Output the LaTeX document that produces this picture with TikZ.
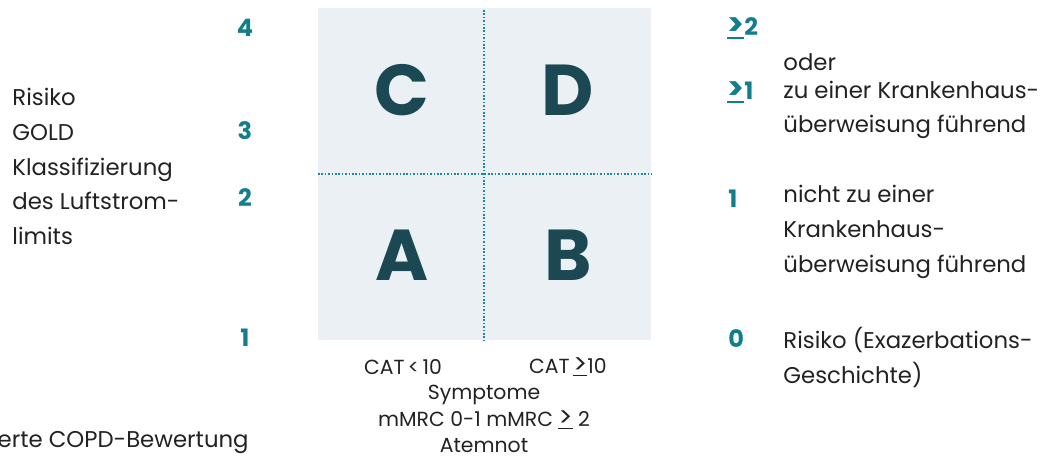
\documentclass[tikz,border=0pt]{standalone}
\usepackage{fontspec}
\setmainfont{Poppins}
\definecolor{boxfill}{HTML}{EBF0F4}
\definecolor{fielddark}{HTML}{1B4853}
\definecolor{numteal}{HTML}{127D8B}
\definecolor{lineteal}{HTML}{1D8A99}
\definecolor{textgray}{HTML}{222222}
\newcommand{\uge}{\setbox0\hbox{\scalebox{1.3}{>}}\rlap{\rule[-1.6pt]{\wd0}{0.6pt}}\box0\relax}
\begin{document}
\begin{tikzpicture}[x=0.5pt, y=-0.5pt,
		txt/.style={font=\fontsize{11.4}{17.3}\selectfont, text=textgray, inner sep=0pt, align=left},
		num/.style={font=\fontsize{12}{14}\selectfont\bfseries, text=numteal, inner sep=0pt},
		field/.style={font=\fontsize{36}{40}\selectfont\bfseries, text=fielddark, inner sep=0pt},
		axis/.style={font=\fontsize{10.2}{13.2}\selectfont, text=textgray, inner sep=0pt, align=center},
		divider/.style={draw=lineteal, line width=0.8pt, dash pattern=on 0.8pt off 0.9pt}]
			\useasboundingbox (0,0) rectangle (1044,459);

			% quadrant field
			\fill[boxfill] (318,8) rectangle (651,340);
			\coordinate (vtop) at (484,10);
			\coordinate (vbot) at (484,343);
			\coordinate (hleft) at (318,174);
			\coordinate (hright) at (652,174);
			\draw[divider] (vtop) -- (vbot);
			\draw[divider] (hleft) -- (hright);

			\node[field] (C) at (402,90) {C};
			\node[field] (D) at (568,90) {D};
			\node[field] (A) at (402,255) {A};
			\node[field] (B) at (568,255) {B};

			% left scale
			\node[num] (n4) at (245,28) {4};
			\node[num] (n3) at (245,131) {3};
			\node[num] (n2) at (245,198) {2};
			\node[num] (n1) at (245,338) {1};
			\node[txt, anchor=west] (gold) at (12,166.5) {Risiko\\GOLD\\Klassifizierung\\des Luftstrom-\\limits};
			\node[txt, anchor=east] (title) at (249,443) {erte COPD-Bewertung};

			% bottom axis
			\node[axis] (cat1) at (403,367) {CAT\,<\,10};
			\node[axis] (cat2) at (568,367) {CAT\,\uge10};
			\node[axis] (sym) at (484,419) {Symptome\\mMRC 0-1 mMRC \uge\ 2\\Atemnot};

			% right scale
			\node[num, anchor=west] (r2) at (727,28) {\uge2};
			\node[num, anchor=west] (r1) at (727,92) {\uge1};
			\node[num, anchor=west] (r1b) at (728,199) {1};
			\node[num, anchor=west] (r0) at (728,339) {0};
			\node[txt, anchor=west] (oder) at (783,62) {oder};
			\node[txt, anchor=west] (hosp) at (783,110) {zu einer Krankenhaus-\\überweisung führend};
			\node[txt, anchor=west] (nohosp) at (783,232) {nicht zu einer\\Krankenhaus-\\überweisung führend};
			\node[txt, anchor=west] (risk) at (783,357.5) {Risiko (Exazerbations-\\Geschichte)};
		\end{tikzpicture}
\end{document}
